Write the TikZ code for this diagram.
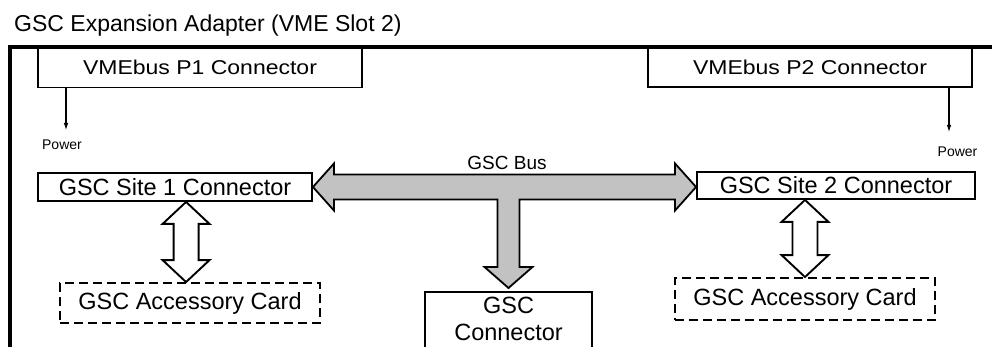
\documentclass[tikz,border=0pt]{standalone}
\usepackage{fontspec}
\setmainfont{Liberation Sans}
\newfontfamily\widefont{Liberation Sans}[FakeStretch=1.15]
\usetikzlibrary{arrows.meta,calc}
\begin{document}
\begin{tikzpicture}[x=1pt,y=-1pt,line join=miter,
  box/.style={draw,line width=1.9pt,inner sep=0pt,font=\fontsize{23.5}{28}\selectfont},
  widebox/.style={font=\widefont\fontsize{20}{24}\selectfont},
  dashbox/.style={box,dash pattern=on 9pt off 5pt},
  busarrow/.style={draw,line width=1.8pt,fill=black!24},
  hollowarrow/.style={draw,line width=1.9pt,fill=white},
  pwr/.style={line width=1.6pt,-{Latex[length=8pt,width=4.5pt]}},
  small/.style={font=\fontsize{14}{16}\selectfont,inner sep=0pt}]
\useasboundingbox (0,0) rectangle (992,347);

% title
\node[anchor=base west,inner sep=0pt,font=\fontsize{23}{27}\selectfont] (title) at (14,32) {GSC Expansion Adapter (VME Slot 2)};

% outer frame
\draw[line width=3.5pt] (10,352) -- (10,47) -- (996,47);

% boxes
\node[box,widebox,minimum width=324,minimum height=40] (p1) at (200,67.5) {VMEbus P1 Connector};
\node[box,widebox,minimum width=324,minimum height=40] (p2) at (810,67) {VMEbus P2 Connector};
\node[box,minimum width=274,minimum height=28] (s1) at (175,187) {GSC Site 1 Connector};
\node[box,minimum width=278,minimum height=27] (s2) at (836,185.5) {GSC Site 2 Connector};
\node[dashbox,minimum width=260,minimum height=40] (a1) at (190,303) {GSC Accessory Card};
\node[dashbox,minimum width=260,minimum height=42] (a2) at (805,299) {GSC Accessory Card};
\node[anchor=north,align=center,inner xsep=0pt,inner ysep=5pt,minimum width=167,
      font=\fontsize{23.5}{27}\selectfont] (gc) at (508.5,292) {GSC\\Connector};
\draw[line width=1.9pt] ($(gc.north west)+(0,80)$) -- (gc.north west) -- (gc.north east) -- ($(gc.north east)+(0,80)$);

% power arrows
\coordinate (pw1) at (66,131);
\coordinate (pw2) at (949,133);
\draw[pwr] (p1.south -| pw1) -- (pw1);
\draw[pwr] (p2.south -| pw2) -- (pw2);
\node[small,anchor=base] (pl1) at (62,150) {Power};
\node[small,anchor=base] (pl2) at (957.5,157) {Power};

% GSC bus T arrow
\coordinate (gtip) at ($(gc.north)+(0,-4)$);
\path[busarrow] let \p1=(s1.east), \p2=(s2.west), \p3=(gtip) in
  (\x1,\y1) -- (\x1+21pt,\y1+23.5pt) -- (\x1+21pt,\y1+12.5pt) -- (\x2-21pt,\y1+12.5pt)
  -- (\x2-21pt,\y1+23.5pt) -- (\x2,\y1) -- (\x2-21pt,\y1-23.5pt) -- (\x2-21pt,\y1-12.5pt)
  -- (\x3+11pt,\y1-12.5pt) -- (\x3+11pt,\y3+21pt) -- (\x3+24pt,\y3+21pt) -- (\x3,\y3)
  -- (\x3-24pt,\y3+21pt) -- (\x3-11pt,\y3+21pt) -- (\x3-11pt,\y1-12.5pt)
  -- (\x1+21pt,\y1-12.5pt) -- (\x1+21pt,\y1-23.5pt) -- cycle;
\node[font=\fontsize{19}{22}\selectfont,anchor=base,inner sep=0pt] (buslbl) at (507,170) {GSC Bus};

% hollow double arrows
\coordinate (t1) at ($(s1.south west)+(149,0)$);
\coordinate (b1) at (a1.north -| t1);
\coordinate (t2) at (s2.south -| a2.north);
\coordinate (b2) at (a2.north);
\foreach \t/\b in {t1/b1,t2/b2}{
\path[hollowarrow] let \p1=(\t), \p2=(\b) in
  (\x1,\y1) -- (\x1+23.5pt,\y1-22pt) -- (\x1+12.5pt,\y1-22pt) -- (\x1+12.5pt,\y2+22pt)
  -- (\x1+23.5pt,\y2+22pt) -- (\x1,\y2) -- (\x1-23.5pt,\y2+22pt) -- (\x1-12.5pt,\y2+22pt)
  -- (\x1-12.5pt,\y1-22pt) -- (\x1-23.5pt,\y1-22pt) -- cycle;
}
\end{tikzpicture}
\end{document}
